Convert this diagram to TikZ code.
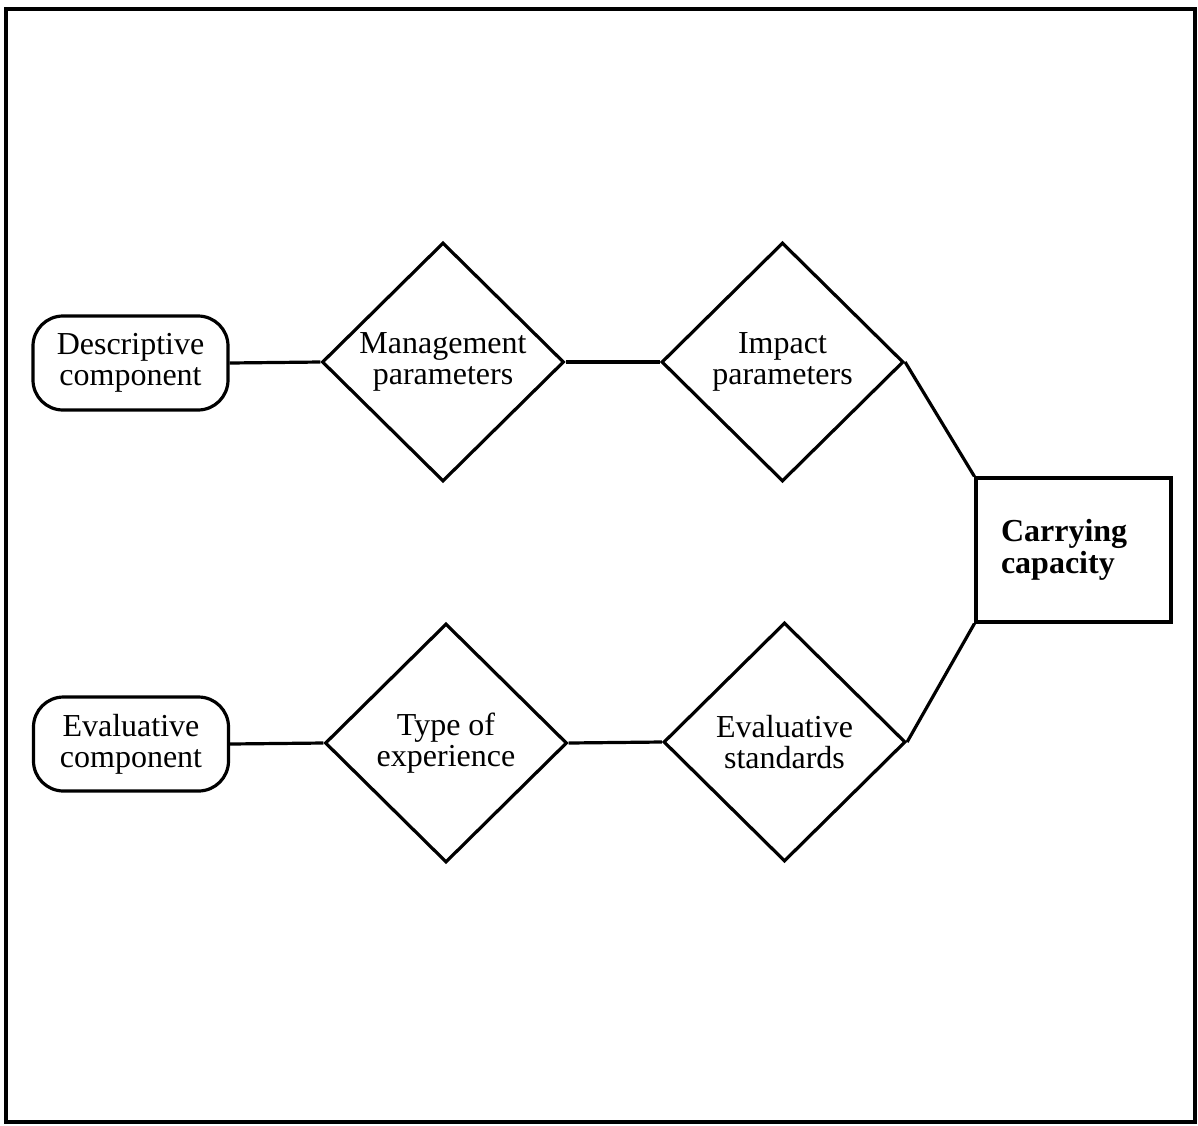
\documentclass[tikz,border=0pt]{standalone}
\usepackage{fontspec}
\setmainfont{Liberation Serif}
\usetikzlibrary{shapes.geometric}
\begin{document}
\begin{tikzpicture}[x=1pt,y=-1pt,
  every node/.style={font=\fontsize{32}{31}\selectfont},
  roundbox/.style={draw,line width=3.2pt,rounded corners=30pt,minimum width=195pt,minimum height=94pt,align=center,inner sep=0pt},
  decision/.style={draw,diamond,line width=3.2pt,minimum width=242pt,minimum height=239pt,align=center,inner sep=0pt},
  resultbox/.style={draw,line width=3.2pt,minimum width=195pt,minimum height=144pt,text width=145pt,inner xsep=25pt,align=left,font=\fontsize{32}{32}\selectfont\bfseries},
  link/.style={line width=3.2pt}]
  \useasboundingbox (0,0) rectangle (1198,1125);
  % outer frame
  \draw[line width=4pt] (6,9) rectangle (1195,1122);

  % upper branch
  \node[roundbox] (desc) at (130.5,363) {Descriptive\\component};
  \node[decision] (mgmt) at (443,362) {Management\\parameters};
  \node[decision] (imp) at (782.5,362) {Impact\\parameters};

  % lower branch
  \node[roundbox] (eval) at (131,744) {Evaluative\\component};
  \node[decision] (type) at (446,743) {Type of\\experience};
  \node[decision] (std) at (784.5,742) {Evaluative\\standards};

  % result
  \node[resultbox] (cc) at (1073.5,550) {Carrying\\capacity};

  \draw[link] (desc.east) -- (mgmt.west);
  \draw[link] (mgmt.east) -- (imp.west);
  \draw[link] (imp.east) -- (cc.north west);
  \draw[link] (eval.east) -- (type.west);
  \draw[link] (type.east) -- (std.west);
  \draw[link] (std.east) -- (cc.south west);
\end{tikzpicture}
\end{document}
